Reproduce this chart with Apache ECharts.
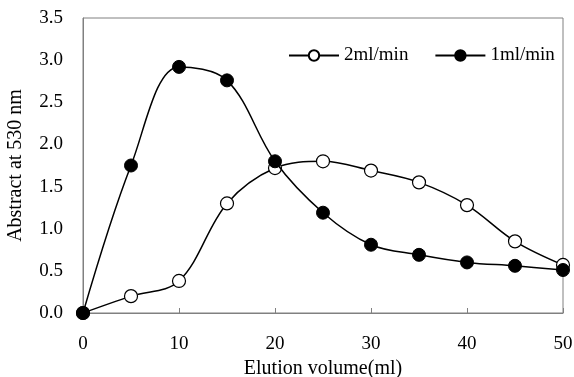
<!DOCTYPE html>
<html><head><meta charset="utf-8">
<script src="https://cdn.jsdelivr.net/npm/echarts@6/dist/echarts.min.js"></script>
<style>html,body{margin:0;padding:0;background:#fff}#c{width:574px;height:377px}</style>
</head><body><div id="c"></div>
<script>
const volumes = [0, 5, 10, 15, 20, 25, 30, 35, 40, 45, 50];
const rate2 = [0, 0.20, 0.38, 1.30, 1.72, 1.80, 1.69, 1.55, 1.28, 0.85, 0.57];
const rate1 = [0, 1.75, 2.92, 2.76, 1.80, 1.19, 0.81, 0.69, 0.60, 0.56, 0.51];
const seriesNames = ['2ml/min', '1ml/min'];
const font = 'Liberation Serif';
const chart = echarts.init(document.getElementById('c'));
const pair = (arr) => volumes.map((v, i) => [v, arr[i]]);
chart.setOption({
  animation: false,
  textStyle: { fontFamily: font },
  grid: { left: 83, right: 11, top: 18, bottom: 64, containLabel: false, outerBoundsMode: 'none', show: true, borderColor: '#808080', borderWidth: 1 },
  legend: {
    left: 283, top: 41, itemWidth: 50, itemHeight: 13, itemGap: 26,
    textStyle: { fontFamily: font, fontSize: 19, color: '#000' },
    data: seriesNames
  },
  xAxis: {
    type: 'value', min: 0, max: 50, interval: 10,
    name: 'Elution volume(ml)', nameLocation: 'middle', nameGap: 45,
    nameTextStyle: { fontFamily: font, fontSize: 20, color: '#000' },
    axisLine: { lineStyle: { color: '#808080' } },
    axisTick: { inside: true, length: 5, lineStyle: { color: '#808080' } },
    axisLabel: { fontFamily: font, fontSize: 19, color: '#000', margin: 22 },
    splitLine: { show: false }
  },
  yAxis: {
    type: 'value', min: 0, max: 3.5, interval: 0.5,
    name: 'Abstract at 530 nm', nameLocation: 'middle', nameGap: 57,
    nameTextStyle: { fontFamily: font, fontSize: 20, color: '#000' },
    axisLine: { show: true, lineStyle: { color: '#808080' } },
    axisTick: { show: false },
    axisLabel: { fontFamily: font, fontSize: 19, color: '#000', margin: 20, formatter: v => v.toFixed(1) },
    splitLine: { show: false }
  },
  series: [
    {
      name: seriesNames[0], type: 'line', data: pair(rate2), smooth: 0.35,
      symbol: 'circle', symbolSize: 13,
      lineStyle: { color: '#000', width: 1.5 },
      itemStyle: { color: '#fff', borderColor: '#000', borderWidth: 1.2 }, z: 3
    },
    {
      name: seriesNames[1], type: 'line', data: pair(rate1), smooth: 0.35,
      symbol: 'circle', symbolSize: 13,
      lineStyle: { color: '#000', width: 1.5 },
      itemStyle: { color: '#000', borderColor: '#000', borderWidth: 1 }, z: 4
    }
  ]
});
</script></body></html>
